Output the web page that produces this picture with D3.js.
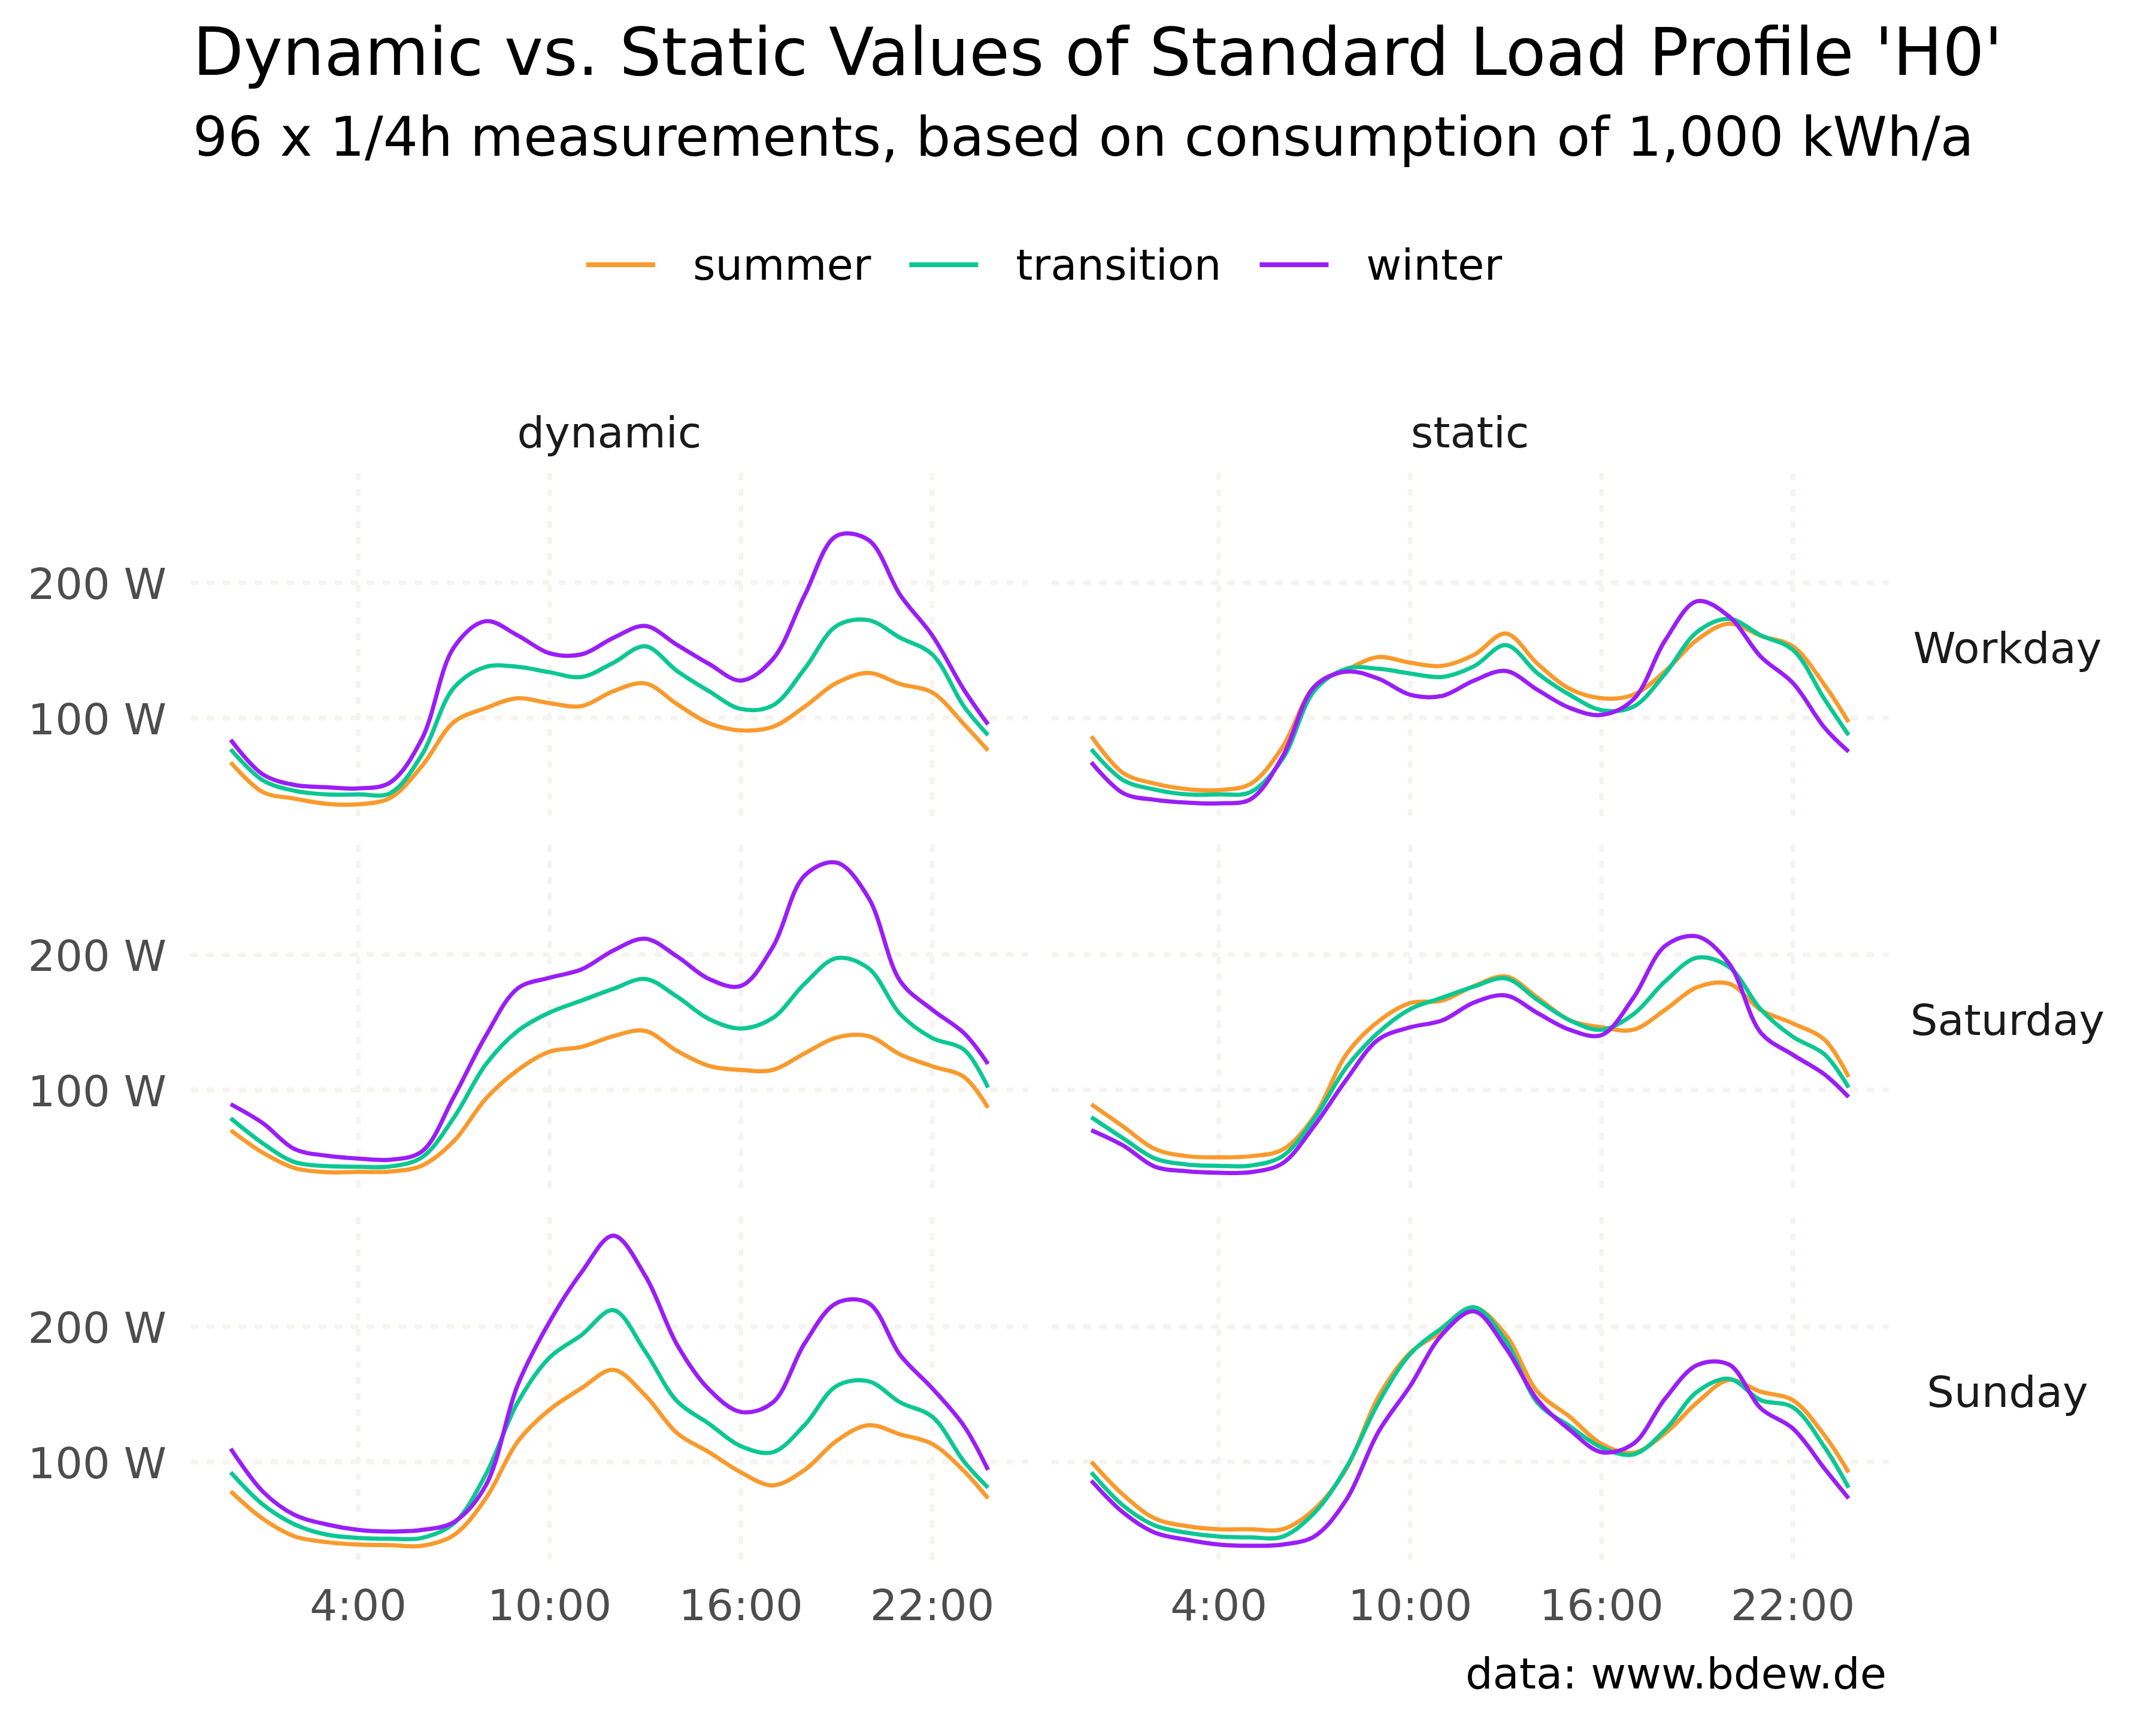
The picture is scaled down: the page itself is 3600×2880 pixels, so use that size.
<!DOCTYPE html>
<html>
<head>
<meta charset="utf-8">
<script src="https://cdn.jsdelivr.net/npm/d3@7"></script>
<style>
  body { margin: 0; background: #fff; }
  text { font-family: "DejaVu Sans", sans-serif; }
</style>
</head>
<body>
<div id="chart"></div>
<script>
// hourly readings (0:00 ... 23:00, last point 23:45), W for 1,000 kWh/a
const hours = [0, 1, 2, 3, 4, 5, 6, 7, 8, 9, 10, 11, 12, 13, 14, 15, 16, 17, 18, 19, 20, 21, 22, 23, 23.75];

const seasons = ["summer", "transition", "winter"];
const seasonColors = ["#F99A2D", "#0CC793", "#9A1EF7"];
const profiles = ["dynamic", "static"];
const days = ["Workday", "Saturday", "Sunday"];

const tickHours = [4, 10, 16, 22];
const tickLabels = ["4:00", "10:00", "16:00", "22:00"];
const yBreaks = [100, 200];

// dynamic
const dynWorkdaySummer = [67.3, 45.4, 40.5, 36.7, 36.3, 41.0, 64.6, 97.0, 107.4, 114.6, 111.0, 108.8, 119.8, 125.6, 110.2, 96.2, 90.9, 93.5, 108.4, 125.9, 133.3, 125.1, 118.9, 95.3, 76.0];
const dynWorkdayTransition = [76.9, 54.1, 46.3, 43.6, 43.6, 44.5, 73.0, 122.4, 137.8, 137.8, 133.8, 130.3, 140.8, 153.0, 134.7, 119.8, 106.7, 109.3, 136.4, 168.0, 172.3, 159.2, 147.0, 108.4, 87.4];
const dynWorkdayWinter = [83.9, 58.5, 50.6, 48.9, 48.0, 52.4, 84.8, 152.2, 171.5, 161.0, 147.8, 147.0, 159.2, 168.0, 154.0, 140.0, 127.7, 143.4, 190.7, 234.5, 231.5, 190.7, 161.0, 120.7, 95.3];

const dynSaturdaySummer = [70.3, 53.8, 42.4, 39.3, 39.5, 39.8, 44.2, 62.3, 93.6, 114.7, 128.3, 131.8, 139.8, 143.6, 128.8, 117.8, 114.8, 114.8, 127.1, 138.7, 139.8, 126.2, 117.5, 109.6, 86.9];
const dynSaturdayTransition = [79.1, 60.7, 46.8, 43.8, 43.3, 43.5, 50.3, 79.6, 118.9, 143.6, 157.2, 166.0, 174.7, 182.0, 168.9, 152.4, 145.4, 153.2, 178.5, 197.4, 189.9, 155.9, 138.4, 129.7, 101.8];
const dynSaturdayWinter = [89.5, 75.6, 56.4, 51.5, 49.4, 48.5, 54.7, 95.0, 140.0, 175.0, 182.9, 189.0, 203.0, 211.7, 198.6, 182.0, 176.8, 205.6, 258.4, 267.9, 242.0, 180.3, 159.3, 141.9, 119.2];

const dynSundaySummer = [78.3, 58.2, 45.1, 40.8, 39.0, 38.5, 38.1, 46.0, 73.0, 115.0, 138.6, 154.4, 168.0, 149.1, 121.2, 107.2, 92.3, 82.7, 94.1, 115.6, 127.1, 120.3, 113.3, 93.2, 73.1];
const dynSundayTransition = [92.3, 68.7, 53.9, 46.4, 43.9, 43.3, 43.9, 54.7, 90.8, 143.9, 177.1, 193.7, 212.1, 181.5, 144.8, 128.2, 111.6, 107.2, 127.3, 156.1, 159.6, 143.9, 133.4, 100.2, 81.0];
const dynSundayWinter = [109.8, 78.3, 60.9, 53.9, 49.8, 48.6, 49.8, 55.6, 82.7, 156.8, 203.5, 240.0, 267.1, 237.5, 186.5, 153.5, 136.9, 143.9, 187.6, 217.3, 217.3, 178.8, 154.4, 126.4, 94.1];

// static
const staWorkdaySummer = [86.5, 59.4, 51.5, 47.5, 46.8, 51.5, 78.7, 123.5, 135.6, 145.0, 140.8, 138.5, 146.6, 162.4, 139.9, 121.6, 114.6, 117.2, 134.7, 157.8, 169.7, 160.6, 153.0, 124.2, 97.0];
const staWorkdayTransition = [76.9, 54.1, 47.1, 43.6, 43.6, 45.4, 69.9, 120.3, 136.4, 136.4, 132.9, 130.3, 138.2, 153.9, 132.9, 117.2, 105.8, 108.4, 132.9, 163.6, 173.2, 161.0, 150.4, 113.7, 87.4];
const staWorkdayWinter = [67.3, 44.5, 39.6, 37.5, 37.0, 40.1, 71.7, 123.3, 134.3, 129.1, 117.2, 116.3, 127.7, 134.7, 120.7, 107.5, 102.3, 113.7, 157.5, 186.3, 175.0, 145.2, 125.9, 92.7, 75.2];

const staSaturdaySummer = [89.5, 73.0, 56.4, 51.1, 50.3, 51.1, 56.0, 80.8, 126.4, 150.6, 164.2, 166.0, 176.8, 183.8, 168.1, 151.5, 146.3, 144.5, 159.3, 175.9, 178.5, 159.0, 149.2, 137.0, 109.6];
const staSaturdayTransition = [79.9, 64.3, 49.4, 45.0, 44.0, 44.2, 51.2, 79.1, 116.8, 142.4, 159.7, 168.1, 176.4, 182.4, 166.3, 151.5, 144.5, 155.9, 180.3, 197.7, 190.8, 159.3, 139.3, 126.2, 101.8];
const staSaturdayWinter = [70.3, 59.0, 43.3, 40.0, 38.9, 39.3, 45.9, 73.8, 107.7, 137.2, 146.3, 151.3, 164.6, 169.8, 156.7, 144.5, 140.5, 168.1, 206.5, 213.4, 193.4, 142.2, 126.0, 111.4, 94.8];

const staSundaySummer = [100.2, 75.7, 58.2, 52.6, 50.3, 50.3, 50.3, 65.2, 95.1, 147.9, 180.6, 196.3, 213.8, 193.7, 151.6, 133.4, 113.3, 106.8, 121.2, 143.9, 160.5, 151.8, 145.6, 119.4, 92.3];
const staSundayTransition = [92.3, 67.8, 53.0, 47.7, 45.0, 44.3, 44.8, 62.5, 96.0, 143.5, 179.7, 199.0, 214.2, 189.3, 143.5, 126.4, 110.7, 105.5, 123.8, 151.8, 161.4, 145.6, 140.4, 110.7, 81.0];
const staSundayWinter = [86.2, 62.6, 47.7, 42.5, 39.0, 38.1, 39.0, 45.1, 72.2, 122.0, 156.1, 194.1, 211.2, 184.1, 145.6, 123.8, 107.2, 113.5, 146.9, 171.5, 171.9, 139.5, 124.7, 94.9, 73.1];

// profile -> day -> season
const series = {
  dynamic: {
    Workday: [dynWorkdaySummer, dynWorkdayTransition, dynWorkdayWinter],
    Saturday: [dynSaturdaySummer, dynSaturdayTransition, dynSaturdayWinter],
    Sunday: [dynSundaySummer, dynSundayTransition, dynSundayWinter]
  },
  static: {
    Workday: [staWorkdaySummer, staWorkdayTransition, staWorkdayWinter],
    Saturday: [staSaturdaySummer, staSaturdayTransition, staSaturdayWinter],
    Sunday: [staSundaySummer, staSundayTransition, staSundayWinter]
  }
};

const width = 3600, height = 2880;
const panelW = 1391, panelH = 576;
const colX = [322, 1759];
const rowY = [793, 1414, 2035];

const gridColor = "#F6F3F0";
const lineWidth = 7;

const svg = d3.select("#chart").append("svg")
    .attr("width", width)
    .attr("height", height);

svg.append("rect")
    .attr("width", width)
    .attr("height", height)
    .attr("fill", "#fff");

// scales with 5% expansion like ggplot
const xExt = d3.extent(hours);
const xPad = (xExt[1] - xExt[0]) * 0.05;
const x = d3.scaleLinear()
    .domain([xExt[0] - xPad, xExt[1] + xPad])
    .range([0, panelW]);

const allValues = [];
profiles.forEach(p => days.forEach(d => series[p][d].forEach(s => allValues.push(...s))));
const yExt = d3.extent(allValues);
const yPad = (yExt[1] - yExt[0]) * 0.05;
const y = d3.scaleLinear()
    .domain([yExt[0] - yPad, yExt[1] + yPad])
    .range([panelH, 0]);

const line = d3.line()
    .x((d, i) => x(hours[i]))
    .y(d => y(d))
    .curve(d3.curveCatmullRom.alpha(0.5));

// title, subtitle
svg.append("text")
    .attr("x", colX[0])
    .attr("y", 125)
    .style("font-size", "110px")
    .attr("fill", "#000")
    .text("Dynamic vs. Static Values of Standard Load Profile 'H0'");

svg.append("text")
    .attr("x", colX[0])
    .attr("y", 260)
    .style("font-size", "91.5px")
    .attr("fill", "#000")
    .text("96 x 1/4h measurements, based on consumption of 1,000 kWh/a");

// legend
const legend = svg.append("g").attr("class", "legend");
let lx = 979;
seasons.forEach((s, i) => {
  legend.append("line")
      .attr("x1", lx).attr("x2", lx + 115)
      .attr("y1", 442).attr("y2", 442)
      .attr("stroke", seasonColors[i])
      .attr("stroke-width", 8);
  const t = legend.append("text")
      .attr("x", lx + 178)
      .attr("y", 467)
      .style("font-size", "72px")
      .attr("fill", "#000")
      .text(s);
  lx = lx + 178 + t.node().getComputedTextLength() + 64;
});

// column strips
profiles.forEach((p, c) => {
  svg.append("text")
      .attr("x", colX[c] + panelW / 2)
      .attr("y", 747)
      .attr("text-anchor", "middle")
      .style("font-size", "72px")
      .attr("fill", "#1A1A1A")
      .text(p);
});

// panels
days.forEach((day, r) => {
  profiles.forEach((p, c) => {
    const g = svg.append("g")
        .attr("transform", "translate(" + colX[c] + "," + rowY[r] + ")");

    g.selectAll("line.hGrid").data(yBreaks)
      .enter().append("line")
        .attr("class", "hGrid")
        .attr("x1", 0).attr("x2", panelW)
        .attr("y1", d => y(d)).attr("y2", d => y(d))
        .attr("stroke", gridColor)
        .attr("stroke-width", 8)
        .attr("stroke-linecap", "round")
        .attr("stroke-dasharray", "5 21.7");

    g.selectAll("line.vGrid").data(tickHours)
      .enter().append("line")
        .attr("class", "vGrid")
        .attr("y1", 0).attr("y2", panelH)
        .attr("x1", d => x(d)).attr("x2", d => x(d))
        .attr("stroke", gridColor)
        .attr("stroke-width", 8)
        .attr("stroke-linecap", "round")
        .attr("stroke-dasharray", "5 21.7");

    g.selectAll("path.season").data(series[p][day])
      .enter().append("path")
        .attr("class", "season")
        .attr("d", line)
        .attr("fill", "none")
        .attr("stroke", (d, i) => seasonColors[i])
        .attr("stroke-width", lineWidth)
        .attr("stroke-linejoin", "round");

    // y labels only on the left column
    if (c === 0) {
      g.selectAll("text.yLabel").data(yBreaks)
        .enter().append("text")
          .attr("class", "yLabel")
          .attr("x", -44)
          .attr("y", d => y(d) + 27)
          .attr("text-anchor", "end")
          .style("font-size", "72px")
          .attr("fill", "#4D4D4D")
          .text(d => d + " W");
    }

    // x labels only on the bottom row
    if (r === days.length - 1) {
      g.selectAll("text.xLabel").data(tickHours)
        .enter().append("text")
          .attr("class", "xLabel")
          .attr("x", d => x(d))
          .attr("y", panelH + 94)
          .attr("text-anchor", "middle")
          .style("font-size", "72px")
          .attr("fill", "#4D4D4D")
          .text((d, i) => tickLabels[i]);
    }
  });

  // row strip on the right
  svg.append("text")
      .attr("x", 3352)
      .attr("y", rowY[r] + panelH / 2 + 26)
      .attr("text-anchor", "middle")
      .style("font-size", "72px")
      .attr("fill", "#1A1A1A")
      .text(day);
});

// caption
svg.append("text")
    .attr("x", colX[1] + panelW)
    .attr("y", 2819)
    .attr("text-anchor", "end")
    .style("font-size", "72px")
    .attr("fill", "#000")
    .text("data: www.bdew.de");
</script>
</body>
</html>
